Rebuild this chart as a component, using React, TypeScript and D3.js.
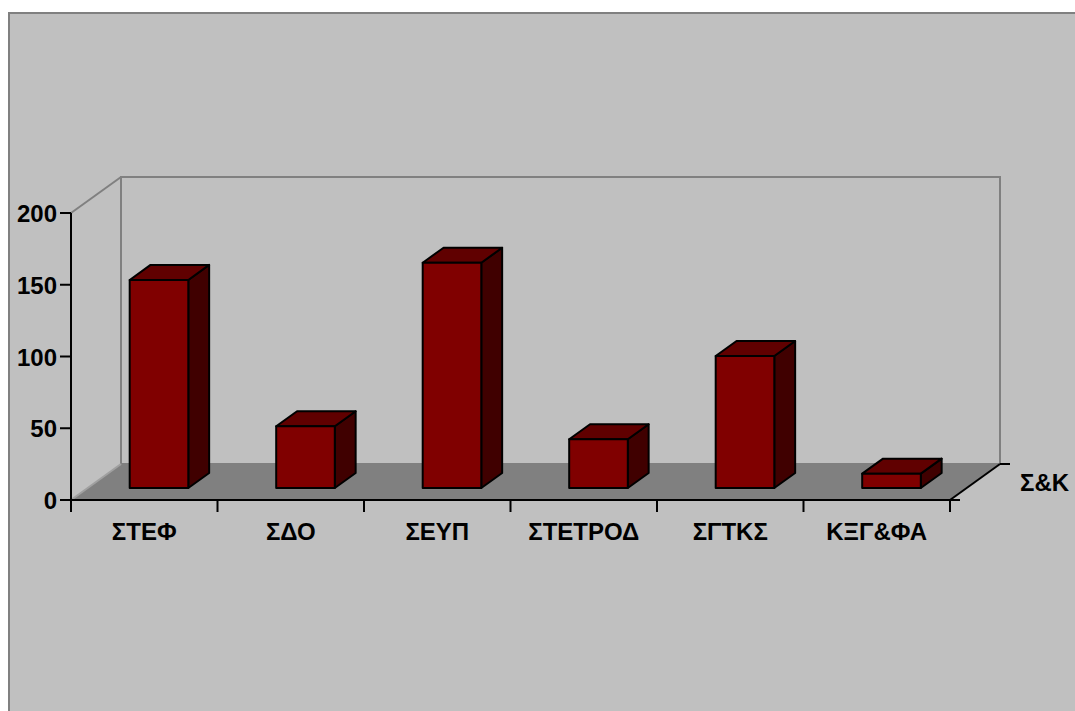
import * as d3 from "d3";

const categories = ["ΣΤΕΦ", "ΣΔΟ", "ΣΕΥΠ", "ΣΤΕΤΡΟΔ", "ΣΓΤΚΣ", "ΚΞΓ&ΦΑ"];
const values = [145, 43, 157, 34, 92, 10];
const yTicks = [0, 50, 100, 150, 200];
const seriesName = "Σ&K";

const W = 1075,
  H = 711;
const left = 71,
  right = 950,
  bottom = 500,
  top = 213;
const depthX = 50,
  depthY = -36;
const font = "'Liberation Sans', Arial, sans-serif";

// project a point on the front plane back by depth d (0..1)
const P = (x: number, y: number, d: number) => [x + depthX * d, y + depthY * d];
const pts = (arr: number[][]) => arr.map((p) => p.join(",")).join(" ");

export default function App() {
  const x = d3.scaleBand().domain(categories).range([left, right]).padding(0);
  const y = d3.scaleLinear().domain([0, 200]).range([bottom, top]);
  const bw = x.bandwidth();
  const d0 = 0.333,
    d1 = 0.75;

  const floor = [P(left, bottom, 0), P(left, bottom, 1), P(right, bottom, 1), P(right, bottom, 0)];
  const backTL = P(left, top, 1);
  const backBL = P(left, bottom, 1);
  const backTR = P(right, top, 1);
  const backBR = P(right, bottom, 1);

  return (
    <svg width={W} height={H} style={{ position: "absolute", left: 0, top: 0 }}>
      <rect x={9} y={13} width={1200} height={900} fill="#C0C0C0" stroke="#808080" strokeWidth={2} />

      {/* walls */}
      <polygon points={pts([P(left, top, 0), backTL, backBL, P(left, bottom, 0)])} fill="#C0C0C0" />
      <polygon points={pts([backTL, backTR, backBR, backBL])} fill="#C0C0C0" stroke="#808080" strokeWidth={2} />
      <line x1={left} y1={top} x2={backTL[0]} y2={backTL[1]} stroke="#808080" strokeWidth={2} />
      <polygon points={pts(floor)} fill="#808080" />
      <line x1={left} y1={bottom} x2={backBL[0]} y2={backBL[1]} stroke="#A0A0A0" strokeWidth={2} />

      {/* bars */}
      {categories.map((c, i) => {
        const xl = (x(c) as number) + bw * 0.287;
        const xr = xl + bw * 0.4;
        const yt = y(values[i]);
        const yb = y(0);
        const fTL = P(xl, yt, d0),
          fTR = P(xr, yt, d0),
          fBL = P(xl, yb, d0),
          fBR = P(xr, yb, d0);
        const bTL = P(xl, yt, d1),
          bTR = P(xr, yt, d1),
          bBR = P(xr, yb, d1);
        return (
          <g key={c} stroke="#000" strokeWidth={2} strokeLinejoin="round">
            <polygon points={pts([fTR, bTR, bBR, fBR])} fill="#400000" />
            <polygon points={pts([fTL, bTL, bTR, fTR])} fill="#600000" />
            <polygon points={pts([fTL, fTR, fBR, fBL])} fill="#800000" />
          </g>
        );
      })}

      {/* value axis */}
      <line x1={left} y1={top} x2={left} y2={bottom + 1} stroke="#000" strokeWidth={2} />
      {yTicks.map((t) => (
        <g key={t}>
          <line x1={60} x2={left} y1={y(t)} y2={y(t)} stroke="#000" strokeWidth={2} />
          <text
            x={57}
            y={y(t) + 9}
            textAnchor="end"
            fontFamily={font}
            fontWeight="bold"
            fontSize={24}
            fill="#000"
          >
            {t}
          </text>
        </g>
      ))}

      {/* category axis */}
      <line x1={left - 11} y1={bottom} x2={right + 10} y2={bottom} stroke="#000" strokeWidth={2} />
      {[...categories.map((c) => x(c) as number), right].map((v, i) => (
        <line key={i} x1={v} x2={v} y1={bottom} y2={bottom + 12} stroke="#000" strokeWidth={2} />
      ))}
      {categories.map((c) => (
        <text
          key={c}
          x={(x(c) as number) + bw / 2}
          y={540}
          textAnchor="middle"
          fontFamily={font}
          fontWeight="bold"
          fontSize={24}
          fill="#000"
        >
          {c}
        </text>
      ))}

      {/* series (depth) axis */}
      <line x1={right} y1={bottom} x2={backBR[0]} y2={backBR[1]} stroke="#000" strokeWidth={2} />
      <line x1={backBR[0]} y1={backBR[1]} x2={backBR[0] + 10} y2={backBR[1]} stroke="#000" strokeWidth={2} />
      <text x={1020} y={491} fontFamily={font} fontWeight="bold" fontSize={24} fill="#000">
        {seriesName}
      </text>
    </svg>
  );
}
